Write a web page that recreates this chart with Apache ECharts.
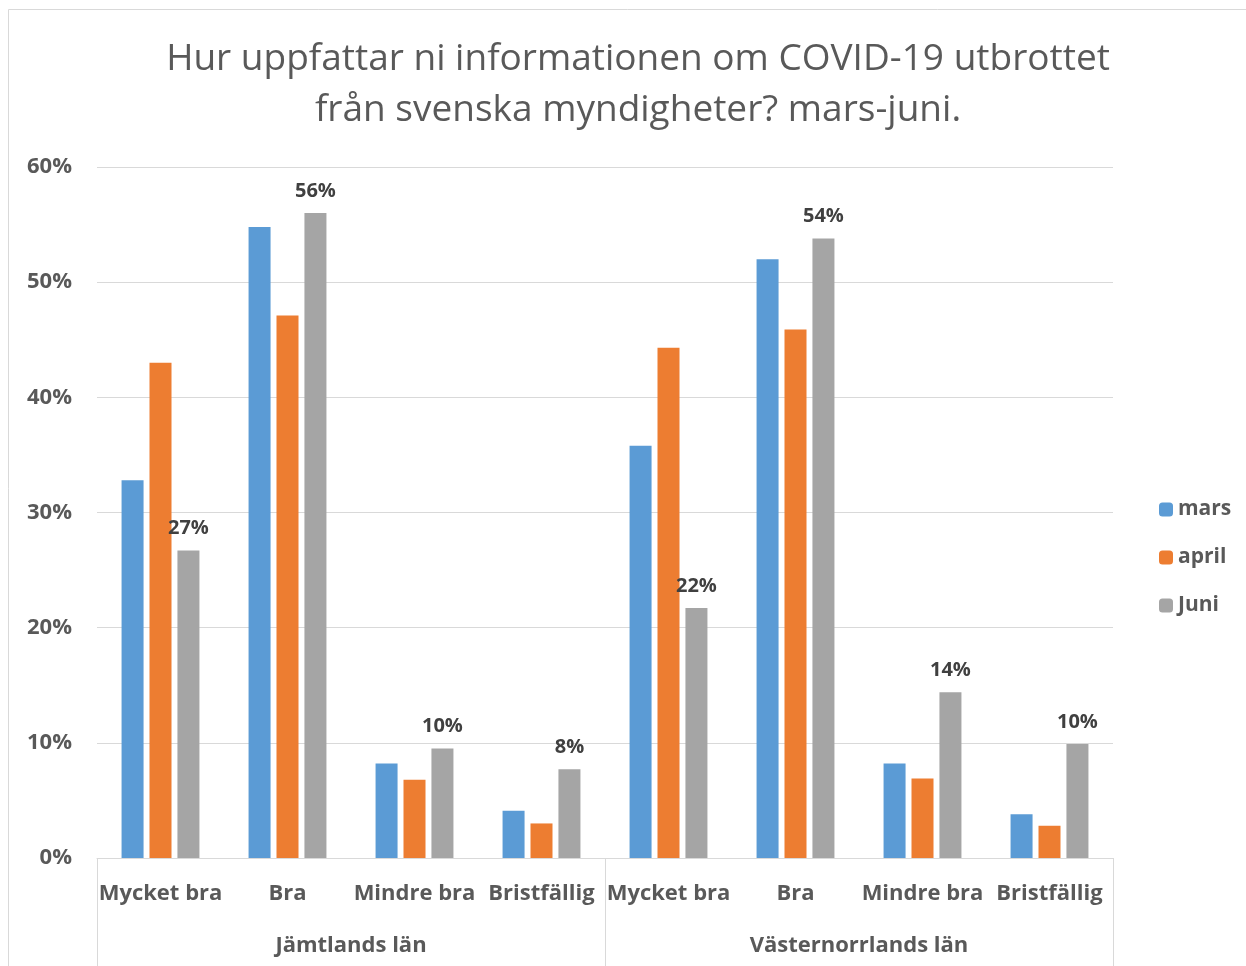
<!DOCTYPE html>
<html>
<head>
<meta charset="utf-8">
<script src="https://cdn.jsdelivr.net/npm/echarts@6/dist/echarts.min.js"></script>
<style>
  html, body { margin: 0; padding: 0; background: #fff; }
  #chart { width: 1246px; height: 966px; }
</style>
</head>
<body>
<div id="chart"></div>
<script>
  // data, in percent
  var categories = ['Mycket bra', 'Bra', 'Mindre bra', 'Bristfällig',
                    'Mycket bra', 'Bra', 'Mindre bra', 'Bristfällig'];
  var regions = ['Jämtlands län', 'Västernorrlands län'];
  var mars  = [32.8, 54.8, 8.2, 4.1, 35.8, 52.0, 8.2, 3.8];
  var april = [43.0, 47.1, 6.8, 3.0, 44.3, 45.9, 6.9, 2.8];
  var juni  = [26.7, 56.0, 9.5, 7.7, 21.7, 53.8, 14.4, 9.9];

  var font = 'Open Sans';
  var chart = echarts.init(document.getElementById('chart'));

  chart.setOption({
    animation: false,
    textStyle: { fontFamily: font },
    title: {
      text: 'Hur uppfattar ni informationen om COVID-19 utbrottet\nfrån svenska myndigheter? mars-juni.',
      left: 633,
      textAlign: 'center',
      top: 29,
      textStyle: { fontSize: 37, fontWeight: 'normal', color: '#595959', lineHeight: 51, fontFamily: font }
    },
    graphic: [{
      type: 'rect',
      shape: { x: 8.5, y: 9.5, width: 1400, height: 1100 },
      style: { fill: 'none', stroke: '#d9d9d9', lineWidth: 1 },
      silent: true
    }],
    legend: {
      orient: 'vertical',
      left: 1154,
      top: 494,
      itemWidth: 14,
      itemHeight: 14,
      itemGap: 27,
      textStyle: { fontSize: 21, fontWeight: 'bold', color: '#595959', fontFamily: font },
      data: ['mars', 'april', 'Juni']
    },
    grid: { left: 97, right: 133, top: 167, bottom: 108, containLabel: false },
    xAxis: [{
      type: 'category',
      data: categories,
      axisLine: { lineStyle: { color: '#d9d9d9', width: 1 } },
      axisTick: { show: false },
      axisLabel: { interval: 0, margin: 25, fontSize: 22, fontWeight: 'bold', color: '#595959', fontFamily: font }
    }, {
      type: 'category',
      data: regions,
      position: 'bottom',
      axisLine: { show: false },
      axisTick: { show: true, length: 110, lineStyle: { color: '#d9d9d9', width: 1 } },
      axisLabel: { margin: 77, fontSize: 22, fontWeight: 'bold', color: '#595959', fontFamily: font }
    }],
    yAxis: {
      type: 'value',
      min: 0,
      max: 60,
      interval: 10,
      axisLine: { show: false },
      axisTick: { show: false },
      splitLine: { lineStyle: { color: '#d9d9d9', width: 1 } },
      axisLabel: { formatter: '{value}%', margin: 25, fontSize: 22, fontWeight: 'bold', color: '#595959', fontFamily: font }
    },
    series: [{
      name: 'mars',
      type: 'bar',
      data: mars,
      barWidth: 22,
      barGap: '27%',
      itemStyle: { color: '#5b9bd5' }
    }, {
      name: 'april',
      type: 'bar',
      data: april,
      barWidth: 22,
      barGap: '27%',
      itemStyle: { color: '#ed7d31' }
    }, {
      name: 'Juni',
      type: 'bar',
      data: juni,
      barWidth: 22,
      barGap: '27%',
      itemStyle: { color: '#a5a5a5' },
      label: {
        show: true,
        position: 'top',
        distance: 12,
        formatter: function (p) { return Math.round(p.value) + '%'; },
        fontSize: 20,
        fontWeight: 'bold',
        color: '#404040',
        fontFamily: font
      }
    }]
  });
</script>
</body>
</html>
